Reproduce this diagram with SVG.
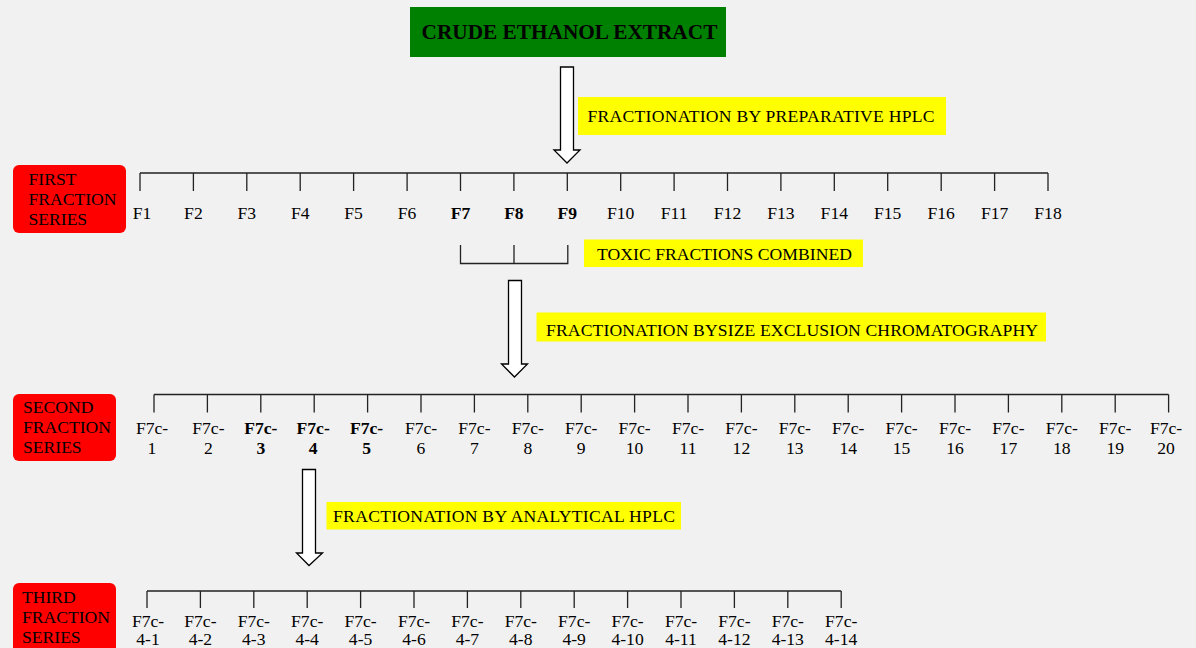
<svg xmlns="http://www.w3.org/2000/svg" width="1196" height="648" viewBox="0 0 1196 648">
<style>
text{font-family:"Liberation Serif","Times New Roman",serif;fill:#000;font-size:17.6px}
.b{font-weight:bold}
.c{text-anchor:middle}
.ylw{fill:#ffff00}
.red{fill:#ff0000}
.ln{stroke:#222;stroke-width:1.3;fill:none}
.arr{fill:#fff;stroke:#000;stroke-width:1.3;stroke-linejoin:miter}
</style>
<rect x="0" y="0" width="1196" height="648" fill="#f1f1f1"/>

<g id="crude">
<rect x="410" y="7" width="316" height="50" fill="#008000"/>
<text x="421.5" y="39" class="b" style="font-size:21.3px">CRUDE ETHANOL EXTRACT</text>
</g>

<g id="label-prep-hplc">
<rect x="578" y="97" width="368" height="38" class="ylw"/>
<text x="587.5" y="121.5" textLength="347" lengthAdjust="spacing">FRACTIONATION BY PREPARATIVE HPLC</text>
</g>

<g id="series1-title">
<rect x="13" y="165" width="113" height="68" rx="6" class="red"/>
<text x="28.5" y="185">FIRST</text>
<text x="28.5" y="205">FRACTION</text>
<text x="28.5" y="224.5">SERIES</text>
</g>

<g id="series1-fractions">
<text class="c" x="142" y="219">F1</text>
<text class="c" x="193.4" y="219">F2</text>
<text class="c" x="246.8" y="219">F3</text>
<text class="c" x="300.2" y="219">F4</text>
<text class="c" x="353.6" y="219">F5</text>
<text class="c" x="407.1" y="219">F6</text>
<text class="c b" x="460.5" y="219">F7</text>
<text class="c b" x="513.9" y="219">F8</text>
<text class="c b" x="567.3" y="219">F9</text>
<text class="c" x="620.7" y="219">F10</text>
<text class="c" x="674.1" y="219">F11</text>
<text class="c" x="727.5" y="219">F12</text>
<text class="c" x="780.9" y="219">F13</text>
<text class="c" x="834.3" y="219">F14</text>
<text class="c" x="887.7" y="219">F15</text>
<text class="c" x="941.2" y="219">F16</text>
<text class="c" x="994.6" y="219">F17</text>
<text class="c" x="1048" y="219">F18</text>
</g>

<g id="label-toxic">
<rect x="584" y="239.5" width="279" height="27.5" class="ylw"/>
<text x="597" y="260" textLength="255" lengthAdjust="spacing">TOXIC FRACTIONS COMBINED</text>
</g>

<g id="label-sec">
<rect x="536.5" y="312.5" width="509.5" height="29" class="ylw"/>
<text x="546" y="335.5" textLength="492" lengthAdjust="spacing">FRACTIONATION BYSIZE EXCLUSION CHROMATOGRAPHY</text>
</g>

<g id="series2-title">
<rect x="13" y="394" width="103" height="67" rx="6" class="red"/>
<text x="23" y="413.3">SECOND</text>
<text x="23" y="433.3">FRACTION</text>
<text x="23" y="452.7">SERIES</text>
</g>

<g id="series2-fractions">
<text class="c" x="152" y="434">F7c-</text><text class="c" x="152" y="454">1</text>
<text class="c" x="208.4" y="434">F7c-</text><text class="c" x="208.4" y="454">2</text>
<text class="c b" x="260.8" y="434">F7c-</text><text class="c b" x="260.8" y="454">3</text>
<text class="c b" x="313.2" y="434">F7c-</text><text class="c b" x="313.2" y="454">4</text>
<text class="c b" x="366.6" y="434">F7c-</text><text class="c b" x="366.6" y="454">5</text>
<text class="c" x="421" y="434">F7c-</text><text class="c" x="421" y="454">6</text>
<text class="c" x="474.4" y="434">F7c-</text><text class="c" x="474.4" y="454">7</text>
<text class="c" x="527.8" y="434">F7c-</text><text class="c" x="527.8" y="454">8</text>
<text class="c" x="581.2" y="434">F7c-</text><text class="c" x="581.2" y="454">9</text>
<text class="c" x="634.6" y="434">F7c-</text><text class="c" x="634.6" y="454">10</text>
<text class="c" x="688" y="434">F7c-</text><text class="c" x="688" y="454">11</text>
<text class="c" x="741.4" y="434">F7c-</text><text class="c" x="741.4" y="454">12</text>
<text class="c" x="794.8" y="434">F7c-</text><text class="c" x="794.8" y="454">13</text>
<text class="c" x="848.2" y="434">F7c-</text><text class="c" x="848.2" y="454">14</text>
<text class="c" x="901.6" y="434">F7c-</text><text class="c" x="901.6" y="454">15</text>
<text class="c" x="955" y="434">F7c-</text><text class="c" x="955" y="454">16</text>
<text class="c" x="1008.4" y="434">F7c-</text><text class="c" x="1008.4" y="454">17</text>
<text class="c" x="1061.8" y="434">F7c-</text><text class="c" x="1061.8" y="454">18</text>
<text class="c" x="1115.2" y="434">F7c-</text><text class="c" x="1115.2" y="454">19</text>
<text class="c" x="1166" y="434">F7c-</text><text class="c" x="1166" y="454">20</text>
</g>

<g id="label-anal-hplc">
<rect x="326.5" y="502" width="354.5" height="27.5" class="ylw"/>
<text x="333" y="521.5" textLength="342" lengthAdjust="spacing">FRACTIONATION BY ANALYTICAL HPLC</text>
</g>

<g id="series3-title">
<rect x="13" y="583" width="103" height="72" rx="6" class="red"/>
<text x="22" y="603">THIRD</text>
<text x="22" y="623">FRACTION</text>
<text x="22" y="643">SERIES</text>
</g>

<g id="series3-fractions">
<text class="c" x="148" y="627">F7c-</text><text class="c" x="148" y="645">4-1</text>
<text class="c" x="200.4" y="627">F7c-</text><text class="c" x="200.4" y="645">4-2</text>
<text class="c" x="253.8" y="627">F7c-</text><text class="c" x="253.8" y="645">4-3</text>
<text class="c" x="307.2" y="627">F7c-</text><text class="c" x="307.2" y="645">4-4</text>
<text class="c" x="360.6" y="627">F7c-</text><text class="c" x="360.6" y="645">4-5</text>
<text class="c" x="414" y="627">F7c-</text><text class="c" x="414" y="645">4-6</text>
<text class="c" x="467.4" y="627">F7c-</text><text class="c" x="467.4" y="645">4-7</text>
<text class="c" x="520.8" y="627">F7c-</text><text class="c" x="520.8" y="645">4-8</text>
<text class="c" x="574.2" y="627">F7c-</text><text class="c" x="574.2" y="645">4-9</text>
<text class="c" x="627.6" y="627">F7c-</text><text class="c" x="627.6" y="645">4-10</text>
<text class="c" x="681" y="627">F7c-</text><text class="c" x="681" y="645">4-11</text>
<text class="c" x="734.4" y="627">F7c-</text><text class="c" x="734.4" y="645">4-12</text>
<text class="c" x="787.8" y="627">F7c-</text><text class="c" x="787.8" y="645">4-13</text>
<text class="c" x="841.2" y="627">F7c-</text><text class="c" x="841.2" y="645">4-14</text>
</g>

<g id="connectors">
<polygon class="arr" points="560.5,67 573.5,67 573.5,150 580,150 567,163 554,150 560.5,150"/>
<polygon class="arr" points="508.5,280.5 521.5,280.5 521.5,364 527.5,364 514.5,377 501.5,364 508.5,364"/>
<polygon class="arr" points="302.5,469.5 315.5,469.5 315.5,553 322.5,553 309,565.5 296.5,553 302.5,553"/>

<path class="ln" d="M140,173 H1048 M140,173 V191 M193.4,173 V191 M246.8,173 V191 M300.2,173 V191 M353.6,173 V191 M407.1,173 V191 M460.5,173 V191 M513.9,173 V191 M567.3,173 V191 M620.7,173 V191 M674.1,173 V191 M727.5,173 V191 M780.9,173 V191 M834.3,173 V191 M887.7,173 V191 M941.2,173 V191 M994.6,173 V191 M1048,173 V191"/>

<path class="ln" d="M460.5,245 V263.5 H567.8 V245 M514,245 V263.5"/>

<path class="ln" d="M154,394.5 H1168.6 M154,394.5 V412.5 M207.4,394.5 V412.5 M260.8,394.5 V412.5 M314.2,394.5 V412.5 M367.6,394.5 V412.5 M421,394.5 V412.5 M474.4,394.5 V412.5 M527.8,394.5 V412.5 M581.2,394.5 V412.5 M634.6,394.5 V412.5 M688,394.5 V412.5 M741.4,394.5 V412.5 M794.8,394.5 V412.5 M848.2,394.5 V412.5 M901.6,394.5 V412.5 M955,394.5 V412.5 M1008.4,394.5 V412.5 M1061.8,394.5 V412.5 M1115.2,394.5 V412.5 M1168.6,394.5 V412.5"/>

<path class="ln" d="M147,591 H841.2 M147,591 V608 M200.4,591 V608 M253.8,591 V608 M307.2,591 V608 M360.6,591 V608 M414,591 V608 M467.4,591 V608 M520.8,591 V608 M574.2,591 V608 M627.6,591 V608 M681,591 V608 M734.4,591 V608 M787.8,591 V608 M841.2,591 V608"/>
</g>
</svg>
